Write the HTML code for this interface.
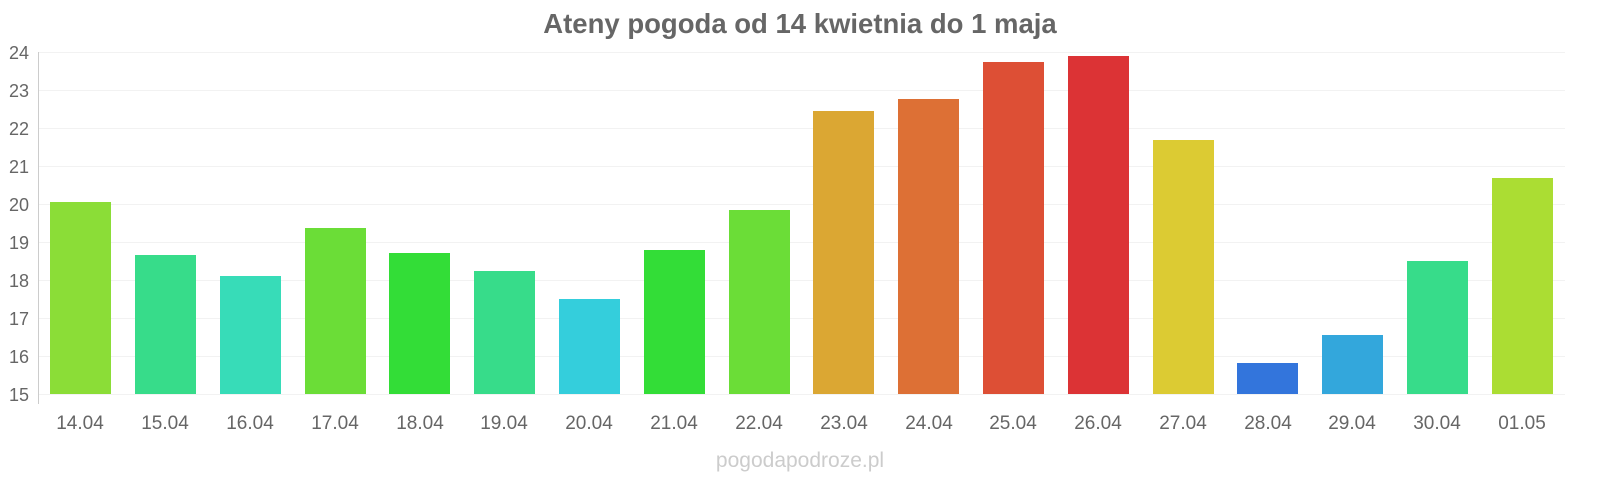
<!DOCTYPE html>
<html><head><meta charset="utf-8"><style>
html,body{margin:0;padding:0;background:#fff;width:1600px;height:480px;overflow:hidden}
text{font-family:"Liberation Sans",sans-serif}
</style></head><body>
<svg width="1600" height="480" viewBox="0 0 1600 480">
<text x="800" y="33" text-anchor="middle" font-size="27.5" font-weight="bold" fill="#666">Ateny pogoda od 14 kwietnia do 1 maja</text>
<g stroke="#f2f2f2" stroke-width="1">
<line x1="38" x2="1565" y1="52.5" y2="52.5"/><line x1="38" x2="1565" y1="90.5" y2="90.5"/>
<line x1="38" x2="1565" y1="128.5" y2="128.5"/><line x1="38" x2="1565" y1="166.5" y2="166.5"/>
<line x1="38" x2="1565" y1="204.5" y2="204.5"/><line x1="38" x2="1565" y1="242.5" y2="242.5"/>
<line x1="38" x2="1565" y1="280.5" y2="280.5"/><line x1="38" x2="1565" y1="318.5" y2="318.5"/>
<line x1="38" x2="1565" y1="356.5" y2="356.5"/><line x1="38" x2="1565" y1="394.5" y2="394.5"/>
</g>
<line x1="38.5" x2="38.5" y1="52" y2="404" stroke="#ccc"/>
<g font-size="18" fill="#666" text-anchor="end">
<text x="29" y="59">24</text><text x="29" y="97">23</text><text x="29" y="135">22</text>
<text x="29" y="173">21</text><text x="29" y="211">20</text><text x="29" y="249">19</text>
<text x="29" y="287">18</text><text x="29" y="325">17</text><text x="29" y="363">16</text>
<text x="29" y="401">15</text>
</g>
<g>
<rect x="50" y="202" width="61" height="192" fill="#8bdd37"/>
<rect x="135" y="255" width="61" height="139" fill="#37dc8a"/>
<rect x="220" y="276" width="61" height="118" fill="#37dcb8"/>
<rect x="305" y="228" width="61" height="166" fill="#6bdd37"/>
<rect x="389" y="253" width="61" height="141" fill="#33dd37"/>
<rect x="474" y="271" width="61" height="123" fill="#37dc8a"/>
<rect x="559" y="299" width="61" height="95" fill="#34cedc"/>
<rect x="644" y="250" width="61" height="144" fill="#33dd37"/>
<rect x="729" y="210" width="61" height="184" fill="#6bdd37"/>
<rect x="813" y="111" width="61" height="283" fill="#dba733"/>
<rect x="898" y="99" width="61" height="295" fill="#dd7035"/>
<rect x="983" y="62" width="61" height="332" fill="#dd4f35"/>
<rect x="1068" y="56" width="61" height="338" fill="#dc3335"/>
<rect x="1153" y="140" width="61" height="254" fill="#dccb33"/>
<rect x="1237" y="363" width="61" height="31" fill="#3375dc"/>
<rect x="1322" y="335" width="61" height="59" fill="#33a7dc"/>
<rect x="1407" y="261" width="61" height="133" fill="#37dc8a"/>
<rect x="1492" y="178" width="61" height="216" fill="#abdd33"/>
</g>
<g font-size="19" fill="#666" text-anchor="middle">
<text x="80" y="429">14.04</text><text x="165" y="429">15.04</text><text x="250" y="429">16.04</text>
<text x="335" y="429">17.04</text><text x="420" y="429">18.04</text><text x="504" y="429">19.04</text>
<text x="589" y="429">20.04</text><text x="674" y="429">21.04</text><text x="759" y="429">22.04</text>
<text x="844" y="429">23.04</text><text x="929" y="429">24.04</text><text x="1013" y="429">25.04</text>
<text x="1098" y="429">26.04</text><text x="1183" y="429">27.04</text><text x="1268" y="429">28.04</text>
<text x="1352" y="429">29.04</text><text x="1437" y="429">30.04</text><text x="1522" y="429">01.05</text>
</g>
<text x="800" y="467" text-anchor="middle" font-size="21" fill="#ccc">pogodapodroze.pl</text>
</svg>
</body></html>
